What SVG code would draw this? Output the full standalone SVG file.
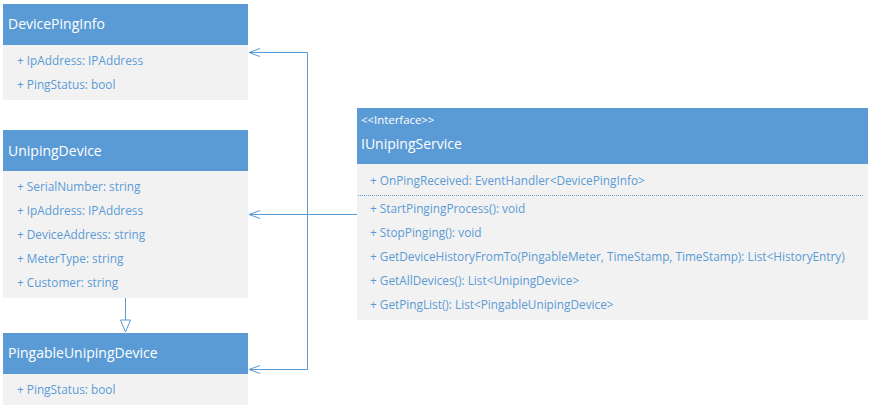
<svg xmlns="http://www.w3.org/2000/svg" width="874" height="410" viewBox="0 0 874 410">
<style>
.hd{fill:#5B9BD5}
.bd{fill:#F2F2F2}
.tt{font-family:"Open Sans","Noto Sans",sans-serif;font-size:14px;fill:#FFFFFF}
.st{font-family:"Open Sans","Noto Sans",sans-serif;font-size:11.4px;fill:#FFFFFF}
.at{font-family:"Open Sans","Noto Sans",sans-serif;font-size:11.8px;fill:#5B9BD5}
.ln{stroke:#5B9BD5;stroke-width:1;fill:none}
</style>
<defs>
<marker id="open" viewBox="0 0 12 10" refX="11" refY="5" markerWidth="12" markerHeight="10" markerUnits="userSpaceOnUse" orient="auto">
<path d="M0 1 L11 5 L0 9" fill="none" stroke="#5B9BD5" stroke-width="1"/>
</marker>
</defs>
<rect width="874" height="410" fill="#FFFFFF"/>
<g id="DevicePingInfo">
<rect class="hd" x="3" y="4" width="245" height="41"/>
<rect class="bd" x="3" y="45" width="245" height="55"/>
<text class="tt" x="8" y="29">DevicePingInfo</text>
<text class="at" x="17" y="65">+ IpAddress: IPAddress</text>
<text class="at" x="17" y="89">+ PingStatus: bool</text>
</g>
<g id="UnipingDevice">
<rect class="hd" x="3" y="130" width="245" height="41"/>
<rect class="bd" x="3" y="171" width="245" height="127"/>
<text class="tt" x="8" y="156">UnipingDevice</text>
<text class="at" x="17" y="191">+ SerialNumber: string</text>
<text class="at" x="17" y="215">+ IpAddress: IPAddress</text>
<text class="at" x="17" y="239">+ DeviceAddress: string</text>
<text class="at" x="17" y="263">+ MeterType: string</text>
<text class="at" x="17" y="287">+ Customer: string</text>
</g>
<g id="PingableUnipingDevice">
<rect class="hd" x="3" y="333" width="245" height="41"/>
<rect class="bd" x="3" y="374" width="245" height="31"/>
<text class="tt" x="8" y="358">PingableUnipingDevice</text>
<text class="at" x="17" y="394">+ PingStatus: bool</text>
</g>
<g id="IUnipingService">
<rect class="hd" x="357" y="108" width="511" height="56"/>
<rect class="bd" x="357" y="164" width="511" height="156"/>
<text class="st" x="361" y="124">&lt;&lt;Interface&gt;&gt;</text>
<text class="tt" x="361" y="149">IUnipingService</text>
<text class="at" x="370" y="185">+ OnPingReceived: EventHandler&lt;DevicePingInfo&gt;</text>
<line x1="358" y1="195.5" x2="864" y2="195.5" stroke="#5B9BD5" stroke-width="1" stroke-dasharray="1 1"/>
<text class="at" x="370" y="213">+ StartPingingProcess(): void</text>
<text class="at" x="370" y="237">+ StopPinging(): void</text>
<text class="at" x="370" y="261">+ GetDeviceHistoryFromTo(PingableMeter, TimeStamp, TimeStamp): List&lt;HistoryEntry)</text>
<text class="at" x="370" y="285">+ GetAllDevices(): List&lt;UnipingDevice&gt;</text>
<text class="at" x="370" y="309">+ GetPingList(): List&lt;PingableUnipingDevice&gt;</text>
</g>
<g id="connectors">
<path class="ln" d="M357 214.5 L249 214.5" marker-end="url(#open)"/>
<path class="ln" d="M307.5 214.5 L307.5 52.5 L249 52.5" marker-end="url(#open)"/>
<path class="ln" d="M307.5 214.5 L307.5 369.5 L249 369.5" marker-end="url(#open)"/>
<path class="ln" d="M125.5 298 L125.5 320"/>
<path d="M120.5 320 L130.5 320 L125.5 332 Z" fill="#FFFFFF" stroke="#5B9BD5" stroke-width="1"/>
</g>
</svg>
